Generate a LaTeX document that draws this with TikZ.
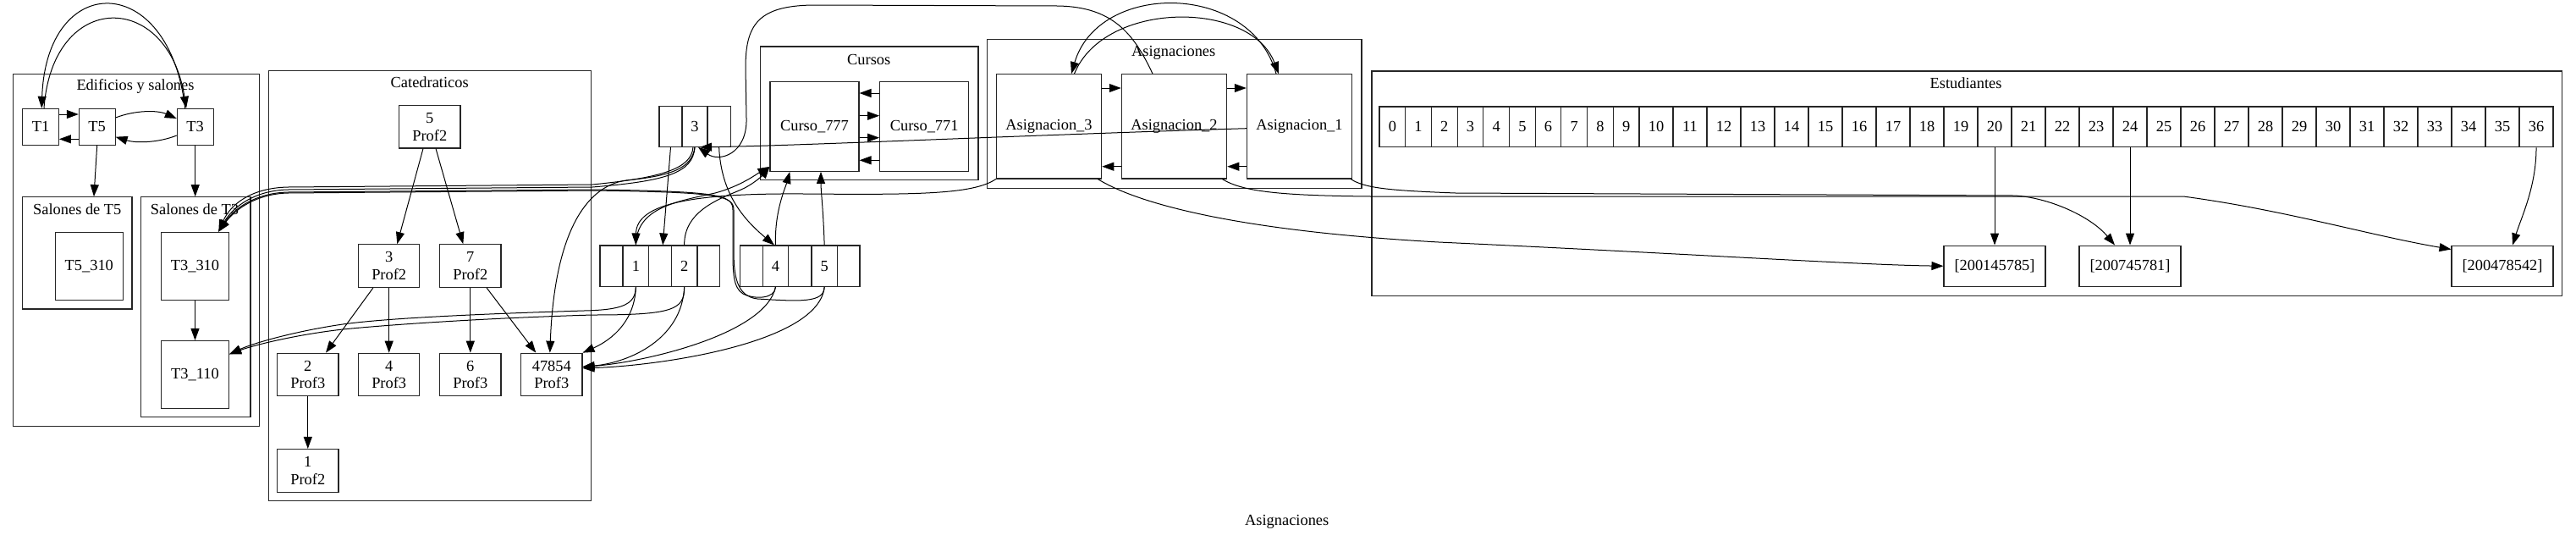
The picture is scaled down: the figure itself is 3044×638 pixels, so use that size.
\documentclass[tikz,border=0pt]{standalone}
\usepackage{fontspec}
\setmainfont{Liberation Serif}
\usetikzlibrary{arrows.meta}
\begin{document}
\begin{tikzpicture}[x=0.5pt,y=-0.5pt,
  every node/.style={font=\fontsize{9.2}{10.4}\selectfont},
  box/.style={draw=black!85, line width=0.55pt, rectangle, inner sep=0pt, align=center},
  tbox/.style={box, minimum width=21.35pt, minimum height=21.35pt},
  sbox/.style={box, minimum width=40pt, minimum height=40pt},
  cbox/.style={box, minimum width=36.15pt, minimum height=25.3pt},
  kbox/.style={box, minimum width=52.5pt, minimum height=52.8pt},
  abox/.style={box, minimum width=62.2pt, minimum height=61.65pt},
  ebox/.style={box, minimum width=60pt, minimum height=24.15pt},
  cluster/.style={draw=black!85, line width=0.6pt, rectangle, inner sep=0pt},
  ttl/.style={inner sep=0pt},
  edge/.style={draw=black, line width=0.5pt, -{Triangle[length=7pt,width=5pt]}},
  plain/.style={draw=black, line width=0.5pt},
]
\useasboundingbox (0,0) rectangle (3044,638);

% ---------- clusters ----------
\node[cluster, minimum width=145.5pt, minimum height=208pt] (kEd) at (161.2,295.3) {};
\node[ttl] (tEd) at (160,101.7) {Edificios y salones};
\node[cluster, minimum width=64.65pt, minimum height=66.15pt] (kT5) at (91.35,298.85) {};
\node[ttl] (tT5) at (91.3,247) {Salones de T5};
\node[cluster, minimum width=64.65pt, minimum height=130pt] (kT3) at (231.35,362.7) {};
\node[ttl] (tT3) at (230,247) {Salones de T3};
\node[cluster, minimum width=190.7pt, minimum height=254.3pt] (kCat) at (508,337.4) {};
\node[ttl] (tCat) at (507.7,97.6) {Catedraticos};
\node[cluster, minimum width=128.85pt, minimum height=78.85pt] (kCur) at (1027.15,133.85) {};
\node[ttl] (tCur) at (1026.7,70) {Cursos};
\node[cluster, minimum width=221.15pt, minimum height=88pt] (kAsi) at (1387.85,134.7) {};
\node[ttl] (tAsi) at (1386.7,62.7) {Asignaciones};
\node[cluster, minimum width=703.2pt, minimum height=132.65pt] (kEst) at (2324.2,216.65) {};
\node[ttl] (tEst) at (2323,98.3) {Estudiantes};
\node[ttl] (tMain) at (1520.7,616.7) {Asignaciones};

% ---------- Edificios ----------
\node[tbox] (T1) at (48,149.7) {T1};
\node[tbox] (T5) at (114.7,149.7) {T5};
\node[tbox] (T3) at (230.7,149.7) {T3};
\node[sbox] (T5310) at (105.3,314.3) {T5\_310};
\node[sbox] (T310) at (230.5,314.2) {T3\_310};
\node[sbox] (T110) at (230.5,442.5) {T3\_110};

% ---------- Catedraticos ----------
\node[cbox] (c5) at (507.8,149.7) {5\\Prof2};
\node[cbox] (c3) at (459.7,314) {3\\Prof2};
\node[cbox] (c7) at (555.8,314) {7\\Prof2};
\node[cbox] (c2) at (363.8,442.5) {2\\Prof3};
\node[cbox] (c4) at (459.7,442.5) {4\\Prof3};
\node[cbox] (c6) at (555.8,442.5) {6\\Prof3};
\node[cbox] (c478) at (651.8,442.5) {47854\\Prof3};
\node[cbox] (c1) at (363.8,555.8) {1\\Prof2};

% ---------- B-tree records ----------
\node[box, minimum width=13.5pt, minimum height=24pt] (r3a) at (792.5,149.3) {};
\node[box, minimum width=15pt, minimum height=24pt] (r3b) at (821,149.3) {3};
\node[box, minimum width=13.65pt, minimum height=24pt] (r3c) at (849.65,149.3) {};

\node[box, minimum width=13.5pt, minimum height=24.15pt] (pa) at (722.5,314.15) {};
\node[box, minimum width=15.35pt, minimum height=24.15pt] (p1) at (751.35,314.15) {1};
\node[box, minimum width=13.3pt, minimum height=24.15pt] (pb) at (780,314.15) {};
\node[box, minimum width=15.35pt, minimum height=24.15pt] (p2) at (808.65,314.15) {2};
\node[box, minimum width=13.35pt, minimum height=24.15pt] (pc) at (837.35,314.15) {};

\node[box, minimum width=13.3pt, minimum height=24.15pt] (qa) at (888,314.15) {};
\node[box, minimum width=15.2pt, minimum height=24.15pt] (q4) at (916.5,314.15) {4};
\node[box, minimum width=13.65pt, minimum height=24.15pt] (qb) at (945.35,314.15) {};
\node[box, minimum width=15.15pt, minimum height=24.15pt] (q5) at (974.15,314.15) {5};
\node[box, minimum width=13.35pt, minimum height=24.15pt] (qc) at (1002.65,314.15) {};

% ---------- Cursos ----------
\node[kbox] (C777) at (962.5,149.5) {Curso\_777};
\node[kbox] (C771) at (1092.2,149.5) {Curso\_771};

% ---------- Asignaciones ----------
\node[abox] (A3) at (1239.5,149.3) {Asignacion\_3};
\node[abox] (A2) at (1387.5,149.3) {Asignacion\_2};
\node[abox] (A1) at (1535.5,149.3) {Asignacion\_1};

% ---------- Estudiantes ----------
\foreach \i in {0,...,9} {
  \node[box, minimum width=15.35pt, minimum height=23.85pt] (s\i) at ({1630+30.7*(\i+0.5)},149.85) {\i};
}
\foreach \i in {10,...,36} {
  \node[box, minimum width=20pt, minimum height=23.85pt] (s\i) at ({1937+40*(\i-9.5)},149.85) {\i};
}
\node[ebox] (st1) at (2357,314.2) {[200145785]};
\node[ebox] (st2) at (2517,314.2) {[200745781]};
\node[ebox] (st3) at (2957,314.2) {[200478542]};

% ---------- edges: Edificios ----------
\draw[edge] ([yshift=7.35pt]T1.east) -- ([yshift=7.35pt]T5.west);
\draw[edge] ([yshift=-7.3pt]T5.west) -- ([yshift=-7.3pt]T1.east);
\draw[edge] ([yshift=5.35pt]T5.east) .. controls (160,130) and (186,130) .. ([yshift=4.85pt]T3.west);
\draw[edge] ([yshift=-5.15pt]T3.west) .. controls (186,169) and (160,169) .. ([yshift=-6pt]T5.east);
\draw[edge] ([xshift=-6pt]T3.north) .. controls (200,-35) and (55,-35) .. ([xshift=0.6pt]T1.north);
\draw[edge] ([xshift=2pt]T1.north) .. controls (62,-12) and (198,-12) .. ([xshift=-5.3pt]T3.north);
\draw[edge] (T5.south) -- ([xshift=9.8pt]kT5.north);
\draw[edge] (T3.south) -- (T3.south |- kT3.north);
\draw[edge] (T310.south) -- (T110.north);

% ---------- edges: Catedraticos ----------
\draw[edge] ([xshift=-3.9pt]c5.south) -- ([xshift=4.8pt]c3.north);
\draw[edge] ([xshift=3.6pt]c5.south) -- ([xshift=-4.25pt]c7.north);
\draw[edge] ([xshift=-9.35pt]c3.south) -- ([xshift=10.6pt]c2.north);
\draw[edge] (c3.south) -- (c4.north);
\draw[edge] (c7.south) -- (c6.north);
\draw[edge] ([xshift=9.6pt]c7.south) -- ([xshift=-9.25pt]c478.north);
\draw[edge] (c2.south) -- (c1.north);

% ---------- edges: Cursos ----------
\draw[edge] ([yshift=19.75pt]C771.west) -- ([yshift=19.75pt]C777.east);
\draw[edge] ([yshift=6.4pt]C777.east) -- ([yshift=6.4pt]C771.west);
\draw[edge] ([yshift=-6.6pt]C777.east) -- ([yshift=-6.6pt]C771.west);
\draw[edge] ([yshift=-19.9pt]C771.west) -- ([yshift=-19.9pt]C777.east);

% ---------- edges: Asignaciones ----------
\draw[edge] ([yshift=22.65pt]A3.east) -- ([yshift=22.65pt]A2.west);
\draw[edge] ([yshift=22.65pt]A2.east) -- ([yshift=22.65pt]A1.west);
\draw[edge] ([yshift=-23.7pt]A2.west) -- ([yshift=-23.7pt]A3.east);
\draw[edge] ([yshift=-23.7pt]A1.west) -- ([yshift=-23.7pt]A2.east);
\draw[edge] ([xshift=-13.75pt]A1.north) .. controls (1478,-22) and (1298,-22) .. ([xshift=13.25pt]A3.north);
\draw[edge] ([xshift=15pt]A3.north) .. controls (1305,0) and (1478,0) .. ([xshift=-12.3pt]A1.north);

% ---------- edges: Estudiantes ----------
\draw[edge] (s20.south) -- (st1.north);
\draw[edge] (s24.south) -- (st2.north);
\draw[edge] (s36.south) .. controls (2997,220) and (2980,255) .. ([xshift=6pt]st3.north);

% ---------- B-tree internal ----------
\draw[edge] (r3a.south) -- ([xshift=1.6pt]pb.north);
\draw[edge] (r3c.south) .. controls (852,230) and (880,260) .. ([xshift=-0.8pt]q4.north);

% ---------- long edges ----------
% Asignacion_2 -> 3
\draw[edge] ([xshift=-12.75pt]A2.north) .. controls (1340,40) and (1315,8) .. (1250,7) -- (960,6) .. controls (895,7) and (881,30) .. (881,80) -- (882,140) .. controls (883,182) and (850,192) .. ([xshift=2pt]r3b.south);
% Asignacion_1 -> 3
\draw[edge] ([yshift=-1.2pt]A1.west) .. controls (1200,160) and (950,172) .. ([xshift=3pt]r3b.south);
% 3 -> T3_310 (double)
\draw[edge] (r3b.south) .. controls (819,205) and (785,214) .. (700,221) -- (340,224) .. controls (300,225) and (275,245) .. ([xshift=13.9pt]T310.north);
\draw[edge] ([xshift=-1pt]r3b.south) .. controls (817,200) and (780,210) .. (700,218) -- (340,221) .. controls (296,222) and (272,242) .. ([xshift=13.9pt]T310.north);
% 3 -> 47854
\draw[edge] (r3b.south) .. controls (818,200) and (790,208) .. (740,213) .. controls (690,220) and (655,280) .. ([xshift=-1pt]c478.north);
% 4, 5 -> T3_310
\draw[edge] (q4.south) .. controls (916,353) and (892,354) .. (878,347) .. controls (866,340) and (866,320) .. (866,295) -- (866,248) .. controls (866,230) and (850,226) .. (700,224) -- (340,227) .. controls (302,228) and (277,246) .. ([xshift=13.9pt]T310.north);
\draw[edge] (q5.south) .. controls (974,358) and (945,356) .. (895,353) .. controls (870,350) and (867,325) .. (867,295) -- (867,248) .. controls (867,231) and (850,227) .. (700,225) -- (340,228) .. controls (303,229) and (278,247) .. ([xshift=13.9pt]T310.north);
% 1, 2 -> T3_110
\draw[edge] (p1.south) .. controls (751,360) and (735,366) .. (690,367) .. controls (560,371) and (455,376) .. (405,383) .. controls (350,391) and (300,405) .. ([yshift=12.1pt]T110.east);
\draw[edge] (p2.south) .. controls (809,366) and (795,372) .. (700,372) .. controls (565,376) and (455,384) .. (405,389) .. controls (352,395) and (302,407) .. ([yshift=12.1pt]T110.east);
% 1, 2, 4, 5 -> 47854
\draw[edge] (p1.south) .. controls (750,385) and (715,405) .. (c478.north east);
\draw[edge] (p2.south) .. controls (806,400) and (745,428) .. ([yshift=4.6pt]c478.east);
\draw[edge] (q4.south) .. controls (905,395) and (760,428) .. ([yshift=4.6pt]c478.east);
\draw[edge] (q5.south) .. controls (968,405) and (780,432) .. ([yshift=3.8pt]c478.east);
% 1, 2, 4, 5 -> Curso_777
\draw[edge] (q4.north) .. controls (915,250) and (928,222) .. ([xshift=-14.6pt]C777.south);
\draw[edge] (q5.north) .. controls (973,250) and (970,225) .. ([xshift=3.75pt]C777.south);
\draw[edge] (p2.north) .. controls (808,245) and (860,232) .. (880,222) .. controls (895,214) and (903,205) .. ([yshift=3pt]C777.south west);
\draw[edge] (p1.north) .. controls (752,245) and (800,238) .. (845,228) .. controls (875,220) and (895,205) .. ([yshift=3pt]C777.south west);
% Asignacion_3 -> 1
\draw[edge] (A3.south west) .. controls (1150,230) and (1080,230) .. (950,229) .. controls (820,228) and (752,240) .. (p1.north);
% Asignaciones -> Estudiantes
\draw[edge] ([xshift=-2.5pt]A3.south east) .. controls (1340,238) and (1450,272) .. (1700,286) .. controls (2000,300) and (2200,313) .. (st1.west);
\draw[edge] ([xshift=-1pt]A1.south east) .. controls (1612,222) and (1640,225) .. (1720,228) -- (2380,231) .. controls (2420,233) and (2470,255) .. ([xshift=-9pt]st2.north);
\draw[edge] ([xshift=-3pt]A2.south east) .. controls (1468,226) and (1510,231) .. (1620,232) -- (2580,232) .. controls (2700,248) and (2800,278) .. ([yshift=-2.5pt]st3.north west);
\end{tikzpicture}
\end{document}
